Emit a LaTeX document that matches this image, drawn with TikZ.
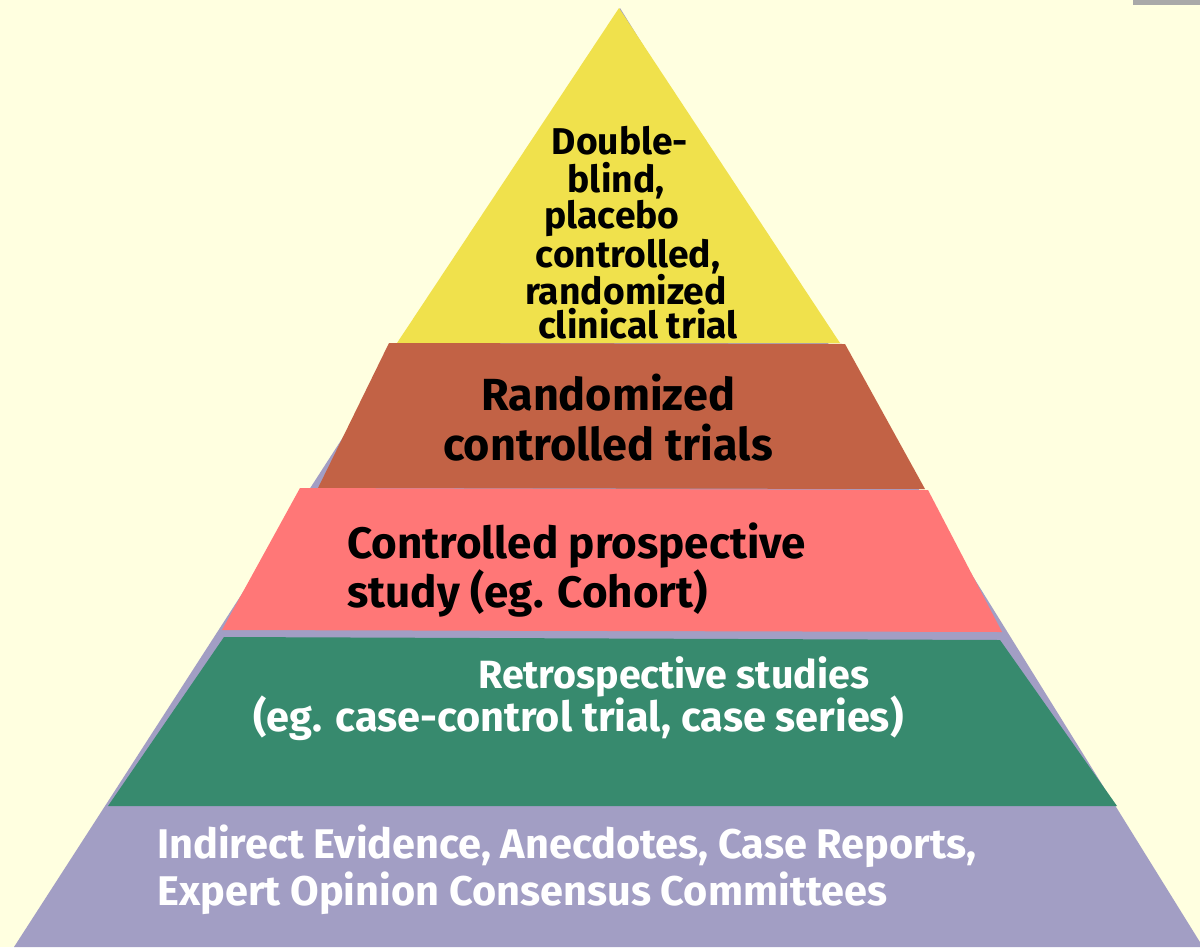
\documentclass[tikz,border=0pt]{standalone}
\usepackage{fontspec}
\setmainfont{Fira Sans}
\definecolor{paper}{HTML}{FFFFE0}
\definecolor{cornergray}{HTML}{A9A9A9}
\definecolor{lavender}{HTML}{A29EC4}
\definecolor{lemon}{HTML}{F0E14C}
\definecolor{brick}{HTML}{C26245}
\definecolor{salmon}{HTML}{FF7777}
\definecolor{seagreen}{HTML}{378A6E}
\begin{document}
\begin{tikzpicture}[x=0.025cm, y=-0.025cm,
  every node/.style={inner sep=0pt},
  onpale/.style={text=black, font=\bfseries\fontsize{32}{36}\selectfont},
  ondark/.style={text=white, font=\bfseries\fontsize{29.5}{32}\selectfont}]
\useasboundingbox (0,0) rectangle (1200,947);
\fill[paper] (0,0) rectangle (1200,947);
\fill[cornergray] (1133,0) rectangle (1200,5);
% whole pyramid, left showing at the bottom and along the edges
\fill[lavender] (620,8) -- (1203,947) -- (14,947) -- cycle;
% levels
\fill[lemon] (619,8) -- (840,343) -- (397,343) -- cycle;
\fill[brick] (389,343) -- (845,344) -- (925,489) -- (318,488) -- cycle;
\fill[salmon] (300,488) -- (928,490) -- (1002,632) -- (222,630) -- cycle;
\fill[seagreen] (224,637) -- (1000,640) -- (1117,806) -- (108,806) -- cycle;
% top level
\foreach \yy/\xx/\txt [count=\i] in {154/620/{Double-}, 192/616/{blind,}, 228/612/{placebo}, 267/628/{controlled,}, 304/626/{randomized}, 338/638/{clinical trial}}
  \node[onpale, font=\bfseries\fontsize{26.5}{26}\selectfont, anchor=base] (top\i) at (\xx,\yy) {\txt};
\node[onpale, anchor=base] (rct1) at (608,410) {Randomized};
\node[onpale, anchor=base] (rct2) at (608,460) {controlled trials};
\node[onpale, font=\bfseries\fontsize{31.3}{36}\selectfont, anchor=base west] (cohort1) at (347,558) {Controlled prospective};
\node[onpale, font=\bfseries\fontsize{31.3}{36}\selectfont, anchor=base west] (cohort2) at (347,607) {study (eg. Cohort)};
\node[ondark, font=\bfseries\fontsize{28}{32}\selectfont, anchor=base west] (retro1) at (478,688) {Retrospective studies};
\node[ondark, anchor=base west] (retro2) at (253,731) {(eg. case-control trial, case series)};
\node[ondark, anchor=base west] (base1) at (157,858) {Indirect Evidence, Anecdotes, Case Reports,};
\node[ondark, anchor=base west] (base2) at (157,905) {Expert Opinion Consensus Committees};
\end{tikzpicture}
\end{document}
